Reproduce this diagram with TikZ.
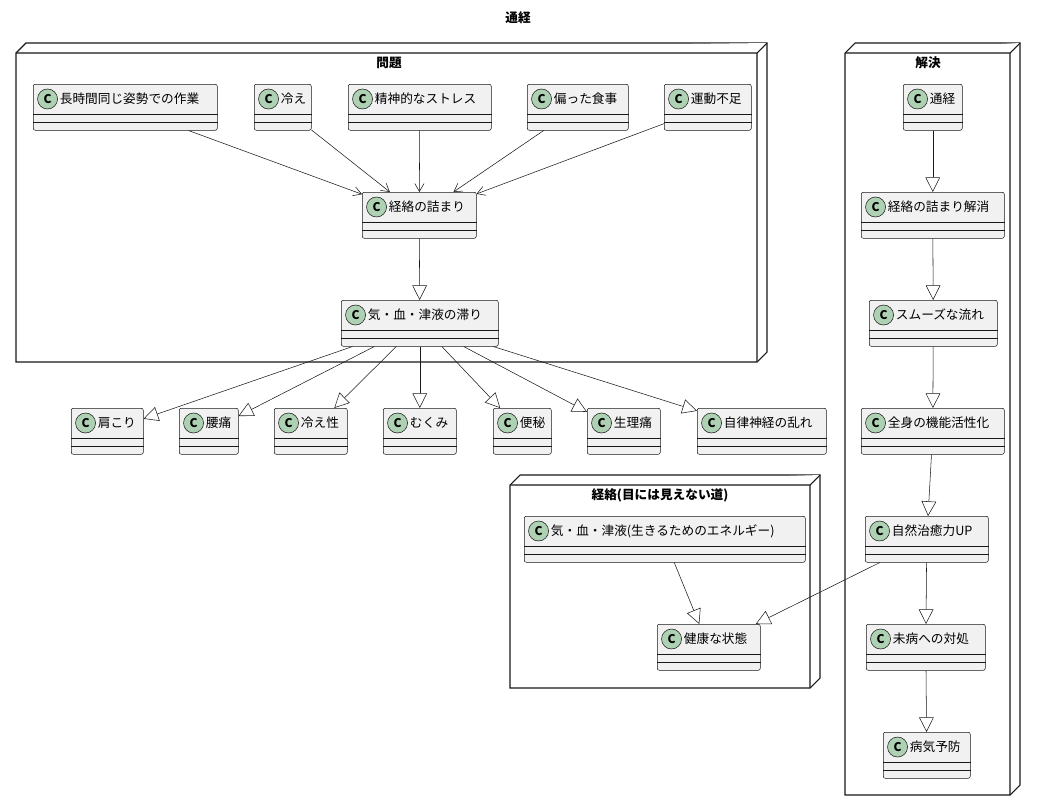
\documentclass[tikz,border=0pt]{standalone}
\usepackage{fontspec}
\setmainfont{Noto Sans CJK JP}
\usetikzlibrary{arrows.meta}
\definecolor{boxfill}{HTML}{F1F1F1}
\definecolor{linec}{HTML}{181818}
\definecolor{badgec}{HTML}{ADD1B2}
\tikzset{
  cls/.style={draw=linec, fill=boxfill, rectangle, rounded corners=1.5pt, minimum height=34.5pt, inner sep=0pt},
  frame/.style={draw=linec, fill=white, line width=0.8pt},
  uses/.style={-{Straight Barb[length=6pt,width=7pt]}, draw=linec},
  inh/.style={-{Triangle[open,length=11pt,width=11pt]}, draw=linec},
}
% class box: name, x1, y1, x2, text
\newcommand\cls[5]{%
  \node[cls, minimum width={(#4-#2)*0.75pt}, anchor=north west] (#1) at (#2,#3) {};
  \node[anchor=west, inner sep=0pt, font=\fontsize{9.5pt}{11pt}\selectfont] at ([xshift=3pt,yshift=-11.25pt]#1.north west)
    {\tikz[baseline=-3pt]\node[circle, draw=linec, fill=badgec, inner sep=0pt, minimum size=15pt, font=\bfseries\small]{C};\,#5};
  \draw[linec] ([yshift=-22.5pt]#1.north west) -- ([yshift=-22.5pt]#1.north east);
  \draw[linec] ([yshift=-28.5pt]#1.north west) -- ([yshift=-28.5pt]#1.north east);
}
% 3d frame: x1, y1, x2, y2
\newcommand\frm[4]{%
  \draw[frame] (#1,#2+10) -- (#1+10,#2) -- (#3,#2) -- (#3,#4-10) -- (#3-10,#4) -- (#1,#4) -- cycle;
  \draw[frame] (#1,#2+10) -- (#3-10,#2+10) -- (#3,#2) (#3-10,#2+10) -- (#3-10,#4);
}
\begin{document}
\begin{tikzpicture}[x=0.75pt, y=-0.75pt, font=\fontsize{9.5pt}{11pt}\selectfont]
\useasboundingbox (0,0) rectangle (1037,811);
\node[font=\bfseries\fontsize{9.5pt}{11pt}\selectfont] (title) at (518,18) {通経};

\frm{16}{43}{767}{362}
\node[font=\bfseries\fontsize{9.5pt}{11pt}\selectfont] (t1) at (389,63) {問題};
\frm{510}{475}{820}{688}
\node[font=\bfseries\fontsize{9.5pt}{11pt}\selectfont] (t2) at (660,495) {経絡(目には見えない道)};
\frm{845}{43}{1020}{795}
\node[font=\bfseries\fontsize{9.5pt}{11pt}\selectfont] (t3) at (928,63) {解決};

\cls{work}{33}{84}{217}{長時間同じ姿勢での作業}
\cls{cold}{254}{84}{311}{冷え}
\cls{stress}{348}{84}{491}{精神的なストレス}
\cls{diet}{527}{84}{628}{偏った食事}
\cls{exer}{664}{84}{751}{運動不足}
\cls{block}{362}{192}{476}{経絡の詰まり}
\cls{stag}{341}{300}{498}{気・血・津液の滞り}

\cls{s1}{71}{408}{143}{肩こり}
\cls{s2}{179}{408}{238}{腰痛}
\cls{s3}{274}{408}{347}{冷え性}
\cls{s4}{383}{408}{456}{むくみ}
\cls{s5}{493}{408}{551}{便秘}
\cls{s6}{587}{408}{660}{生理痛}
\cls{s7}{697}{408}{826}{自律神経の乱れ}

\cls{energy}{524}{516}{805}{気・血・津液(生きるためのエネルギー)}
\cls{health}{657}{624}{760}{健康な状態}

\cls{r1}{903}{84}{962}{通経}
\cls{r2}{861}{192}{1004}{経絡の詰まり解消}
\cls{r3}{869}{300}{997}{スムーズな流れ}
\cls{r4}{861}{408}{1004}{全身の機能活性化}
\cls{r5}{865}{516}{988}{自然治癒力UP}
\cls{r6}{866}{624}{985}{未病への対処}
\cls{r7}{883}{732}{970}{病気予防}

\foreach \src in {work,cold,stress,diet,exer}
  \draw[uses] (\src) -- (block);
\draw[inh] (block) -- (stag);
\foreach \tgt in {s1,s2,s3,s4,s5,s6,s7}
  \draw[inh] (stag) -- (\tgt);
\draw[inh] (energy) -- (health);
\draw[inh] (r5) -- (health);
\draw[inh] (r1) -- (r2);
\draw[inh] (r2) -- (r3);
\draw[inh] (r3) -- (r4);
\draw[inh] (r4) -- (r5);
\draw[inh] (r5) -- (r6);
\draw[inh] (r6) -- (r7);
\end{tikzpicture}
\end{document}
